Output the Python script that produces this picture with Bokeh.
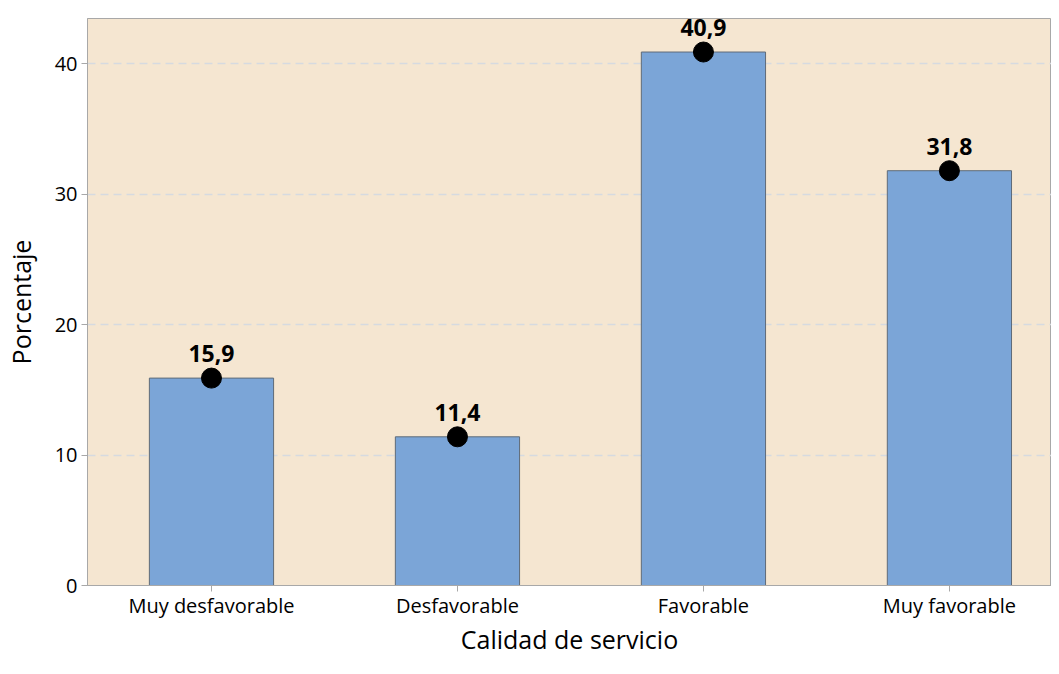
from bokeh.plotting import figure
from bokeh.models import ColumnDataSource, FixedTicker, Range1d
from bokeh.core.properties import value
from bokeh.embed import file_html
from bokeh.resources import INLINE

categories = ["Muy desfavorable", "Desfavorable", "Favorable", "Muy favorable"]
percentages = [15.9, 11.4, 40.9, 31.8]
y_ticks = [0, 10, 20, 30, 40]

xs = list(range(1, len(categories) + 1))
labels = [f"{v:.1f}".replace(".", ",") for v in percentages]
src = ColumnDataSource(dict(x=xs, top=percentages, label=labels))

FONT = "Open Sans"

p = figure(width=1051, height=658, output_backend="svg", toolbar_location=None,
           x_range=Range1d(0.496, 4.415), y_range=Range1d(0, 43.47),
           min_border_left=87, min_border_top=18, min_border_right=0, min_border_bottom=60)

p.background_fill_color = "#F5E6D1"
p.border_fill_color = "white"
p.outline_line_color = "#A8A8A8"
p.outline_line_width = 1

p.vbar(x="x", top="top", width=0.505, source=src, fill_color="#7BA5D7",
       line_color="#5F6B78", line_width=1)
p.scatter(x="x", y="top", source=src, size=20, color="black")
p.text(x="x", y="top", text="label", source=src, y_offset=-16,
       text_align="center", text_baseline="bottom",
       text_font=value(FONT), text_font_style="bold", text_font_size="23px",
       text_color="black")

p.xaxis.ticker = FixedTicker(ticks=xs)
p.xaxis.major_label_overrides = {x: c for x, c in zip(xs, categories)}
p.yaxis.ticker = FixedTicker(ticks=y_ticks)

for ax in (p.xaxis[0], p.yaxis[0]):
    ax.axis_line_color = "#A8A8A8"
    ax.major_tick_line_color = "#A8A8A8"
    ax.major_tick_out = 6
    ax.major_tick_in = 0
    ax.minor_tick_line_color = None
    ax.major_label_text_font = FONT
    ax.major_label_text_font_size = "20px"
    ax.major_label_text_color = "black"
    ax.axis_label_text_font = FONT
    ax.axis_label_text_font_size = "25px"
    ax.axis_label_text_font_style = "normal"
    ax.axis_label_text_color = "black"

p.xaxis.axis_label = "Calidad de servicio"
p.yaxis.axis_label = "Porcentaje"
p.xaxis.major_label_standoff = 0
p.xaxis.axis_label_standoff = 0
p.yaxis.major_label_standoff = 4
p.yaxis.axis_label_standoff = 14

p.xgrid.grid_line_color = None
p.ygrid.grid_line_color = "#D6DAE0"
p.ygrid.grid_line_dash = "8 5"
p.ygrid.grid_line_width = 1.5

open("out.html", "w").write(file_html(p, INLINE))
